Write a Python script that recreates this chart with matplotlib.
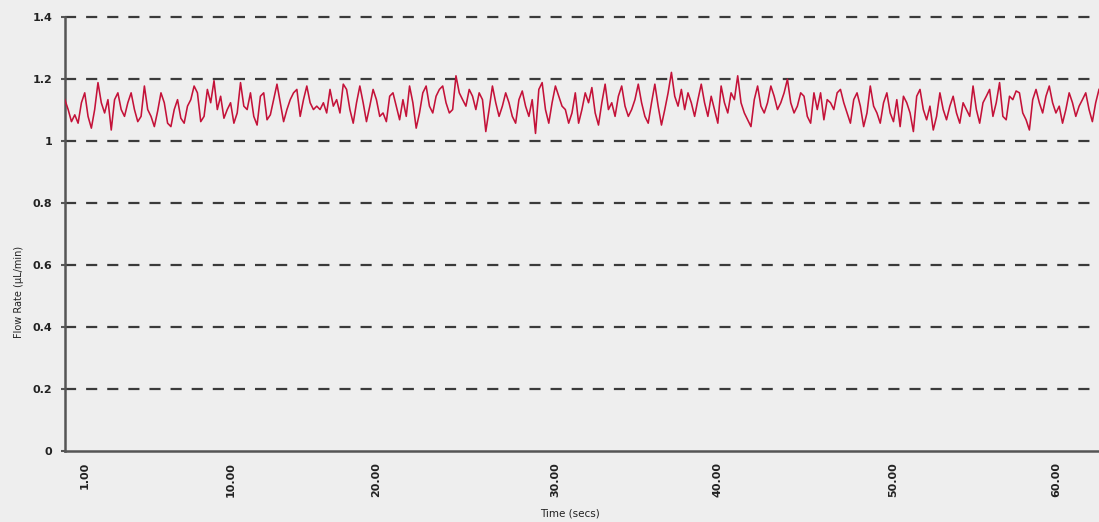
import matplotlib
matplotlib.use("Agg")
import matplotlib.pyplot as plt
import numpy as np

# Flow rate samples (µL/min) left to right
flow_seg1 = [1.134, 1.102, 1.063, 1.085, 1.058, 1.124, 1.156, 1.080, 1.042, 1.102, 1.189, 1.124, 1.091, 1.134,
             1.036, 1.134, 1.156, 1.102, 1.080, 1.124, 1.156, 1.102, 1.063, 1.080, 1.178, 1.102, 1.080, 1.047,
             1.097, 1.156, 1.124, 1.058, 1.047, 1.102, 1.134, 1.074, 1.058, 1.113, 1.134, 1.178, 1.156, 1.063,
             1.080, 1.167, 1.124, 1.195, 1.102, 1.145, 1.074, 1.102, 1.124, 1.058, 1.091, 1.189, 1.113, 1.102,
             1.156, 1.080, 1.052, 1.145, 1.156, 1.069, 1.085, 1.134, 1.184, 1.124, 1.063, 1.102, 1.134, 1.156,
             1.167, 1.080, 1.134, 1.178, 1.124, 1.102, 1.113]
flow_seg2 = [1.102, 1.124, 1.091, 1.167, 1.113, 1.134, 1.091, 1.184, 1.167, 1.102, 1.058, 1.124, 1.178, 1.124,
             1.063, 1.113, 1.167, 1.134, 1.080, 1.091, 1.063, 1.145, 1.156, 1.113, 1.069, 1.134, 1.080, 1.178,
             1.124, 1.042, 1.091, 1.156, 1.178, 1.113, 1.091, 1.145, 1.167, 1.178, 1.124, 1.091, 1.102, 1.211,
             1.156, 1.134, 1.113, 1.167, 1.145, 1.102, 1.156, 1.134, 1.031, 1.102, 1.178, 1.124, 1.080, 1.113,
             1.156, 1.124, 1.080, 1.058, 1.134, 1.162, 1.113, 1.080, 1.134, 1.025, 1.167, 1.189, 1.102, 1.058,
             1.124, 1.178, 1.145, 1.113, 1.102]
flow_seg3 = [1.058, 1.091, 1.156, 1.058, 1.102, 1.156, 1.124, 1.173, 1.091, 1.052, 1.124, 1.184, 1.102, 1.124,
             1.080, 1.145, 1.178, 1.113, 1.080, 1.102, 1.134, 1.184, 1.124, 1.080, 1.058, 1.124, 1.184, 1.113,
             1.052, 1.102, 1.156, 1.222, 1.145, 1.113, 1.167, 1.102, 1.156, 1.124, 1.080, 1.134, 1.184, 1.124,
             1.080, 1.145, 1.102, 1.058, 1.178, 1.124, 1.091, 1.156, 1.134, 1.211, 1.124, 1.091, 1.069, 1.047,
             1.134, 1.178, 1.113, 1.091, 1.124, 1.178, 1.145, 1.102, 1.124, 1.156, 1.200, 1.124, 1.091, 1.113,
             1.156, 1.145, 1.080, 1.058, 1.156, 1.102]
flow_seg4 = [1.156, 1.069, 1.134, 1.124, 1.102, 1.156, 1.167, 1.124, 1.091, 1.058, 1.134, 1.156, 1.113, 1.047,
             1.091, 1.178, 1.113, 1.091, 1.058, 1.124, 1.156, 1.091, 1.063, 1.134, 1.047, 1.145, 1.124, 1.091,
             1.031, 1.145, 1.167, 1.102, 1.069, 1.113, 1.036, 1.080, 1.156, 1.102, 1.069, 1.113, 1.145, 1.091,
             1.058, 1.124, 1.102, 1.080, 1.178, 1.102, 1.058, 1.124, 1.145, 1.167, 1.080, 1.124, 1.189, 1.080,
             1.069, 1.145, 1.134, 1.162, 1.156, 1.091, 1.069, 1.036, 1.134, 1.167, 1.124, 1.091, 1.145, 1.178,
             1.124, 1.091, 1.113, 1.058, 1.102, 1.156, 1.124, 1.080, 1.113, 1.134, 1.156, 1.102, 1.063, 1.124,
             1.167]

flow = flow_seg1 + flow_seg2 + flow_seg3 + flow_seg4

# x tick labels (time, secs) and the sample index they sit on
time_labels = ["1.00", "10.00", "20.00", "30.00", "40.00", "50.00", "60.00"]
time_tick_index = [6, 50, 94, 148, 197, 250, 299]

y_ticks = [0, 0.2, 0.4, 0.6, 0.8, 1.0, 1.2, 1.4]
y_labels = ["0", "0.2", "0.4", "0.6", "0.8", "1", "1.2", "1.4"]

bg = "#eeeeee"
fig = plt.figure(figsize=(10.99, 5.22), dpi=100, facecolor=bg)
ax = fig.add_axes([0.059, 0.136, 0.941, 0.831], facecolor=bg)

idx = np.arange(len(flow))
ax.plot(idx, flow, color="#c41239", lw=1.15, zorder=3)

ax.set_xlim(0, len(flow) - 1)
ax.set_ylim(0, 1.4)

for yv in y_ticks[1:]:
    ax.axhline(yv, color="#3a3a3a", lw=1.6, dashes=(5, 4.5), zorder=1, clip_on=False)

ax.set_yticks(y_ticks)
ax.set_yticklabels(y_labels, fontsize=8, fontweight="bold", color="#222222")
ax.set_xticks(time_tick_index)
ax.set_xticklabels(time_labels, rotation=90, fontsize=8, fontweight="bold", color="#222222")
ax.tick_params(axis="y", length=3, width=1.5, color="#555555", pad=6)
ax.tick_params(axis="x", length=0, pad=8)

for s in ["top", "right"]:
    ax.spines[s].set_visible(False)
for s in ["left", "bottom"]:
    ax.spines[s].set_color("#555555")
    ax.spines[s].set_linewidth(1.8)

fig.text(0.017, 0.44, "Flow Rate (µL/min)", rotation=90, fontsize=7, color="#222222",
         ha="center", va="center")
fig.text(0.519, 0.006, "Time (secs)", fontsize=7.5, color="#222222", ha="center", va="bottom")

fig.savefig("out.png", dpi=100, facecolor=bg)
